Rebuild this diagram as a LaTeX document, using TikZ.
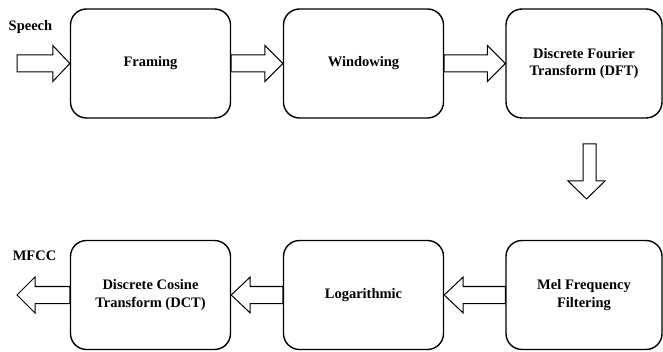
\documentclass[tikz,border=0pt]{standalone}
\usepackage{fontspec}
\setmainfont{Liberation Serif}
\usetikzlibrary{calc}
\tikzset{
  stage/.style={draw, line width=1.4pt, rounded corners=16pt, minimum width=160pt, minimum height=109pt,
    align=center, font=\fontsize{14.5}{17.5}\selectfont\bfseries, inner sep=0pt},
  barrow/.style={draw, line width=1pt, fill=white},
  lbl/.style={font=\fontsize{14.5}{17.5}\selectfont\bfseries, inner sep=0pt}
}
\newcommand\harrow[3]{%
  \draw[barrow] let \p1=(#1), \p2=(#2) in
    (\x1,\y1+8.5) -- (\x2+#3,\y1+8.5) -- (\x2+#3,\y1+18) -- (\x2,\y1) --
    (\x2+#3,\y1-18) -- (\x2+#3,\y1-8.5) -- (\x1,\y1-8.5) -- cycle;}
\begin{document}
\begin{tikzpicture}[x=1pt,y=1pt]
\useasboundingbox (0,0) rectangle (663,-352);
\node[stage] (fr) at (150.5,-63.5) {Framing};
\node[stage] (wi) at (363.5,-63.5) {Windowing};
\node[stage, minimum width=156pt] (dft) at (584,-63.5) {Discrete Fourier\\Transform (DFT)};
\node[stage, minimum width=156pt] (mel) at (584,-295) {Mel Frequency\\Filtering};
\node[stage] (log) at (363.5,-295) {Logarithmic};
\node[stage] (dct) at (150.5,-295) {Discrete Cosine\\Transform (DCT)};
\node[lbl] (sp) at (30.5,-27) {Speech};
\node[lbl] (mf) at (34.5,-256) {MFCC};
\coordinate (sin) at (17,-63.5);
\coordinate (mout) at (17,-295);
\coordinate (dtop) at (589.5,-144);
\coordinate (dbot) at (589.5,-199);
\harrow{sin}{fr.west}{-17}
\harrow{fr.east}{wi.west}{-18}
\harrow{wi.east}{dft.west}{-18}
\harrow{mel.west}{log.east}{19}
\harrow{log.west}{dct.east}{19}
\harrow{dct.west}{mout}{18}
\draw[barrow] let \p1=(dtop), \p2=(dbot) in
  (\x1-6.5,\y1) -- (\x1-6.5,\y2+18) -- (\x1-21.5,\y2+18) -- (\x1-3,\y2) --
  (\x1+15.5,\y2+18) -- (\x1+6.5,\y2+18) -- (\x1+6.5,\y1) -- cycle;
\end{tikzpicture}
\end{document}
